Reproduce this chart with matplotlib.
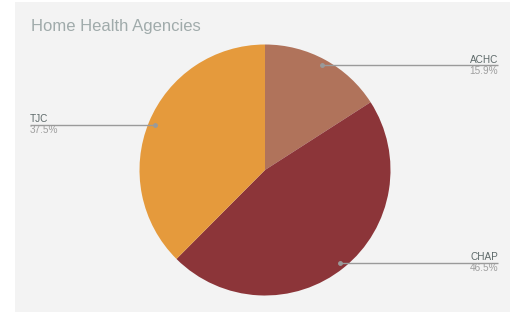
import numpy as np
import matplotlib
matplotlib.use("Agg")
import matplotlib.pyplot as plt
from matplotlib.patches import Rectangle

plt.rcParams['font.family'] = ['Liberation Sans', 'DejaVu Sans']

# Data
labels = ["ACHC", "CHAP", "TJC"]
values = [15.9, 46.5, 37.5]
colors = ["#b0735b", "#8c3539", "#e59a3c"]
title = "Home Health Agencies"

W, H = 511, 312
fig = plt.figure(figsize=(W / 100, H / 100), dpi=100)
fig.patch.set_facecolor("white")
ax = fig.add_axes([0, 0, 1, 1])
ax.set_xlim(0, W)
ax.set_ylim(0, H)
ax.axis("off")

# background panel
ax.add_patch(Rectangle((15, 0), 495 - 15 + 15, H - 2, facecolor="#f3f3f3",
                       edgecolor="none", zorder=0))

cx, cy, r = 265, H - 170, 125.5
wedges, _ = ax.pie(values, colors=colors, startangle=90, counterclock=False,
                   center=(cx, cy), radius=r, frame=True,
                   wedgeprops=dict(linewidth=0))
ax.set_xlim(0, W)
ax.set_ylim(0, H)
ax.axis("off")

line_col = "#9a9a9a"
name_col = "#5d6969"
pct_col = "#9e9e9e"

total = sum(values)
cum = 0
for lab, v in zip(labels, values):
    mid = (cum + v / 2) / total
    cum += v
    ang = np.deg2rad(90 - 360 * mid)
    ax_ = cx + 0.95 * r * np.cos(ang)
    ay_ = cy + 0.95 * r * np.sin(ang)
    if np.cos(ang) >= 0:
        xe = 498
        ha = "right"
    else:
        xe = 30
        ha = "left"
    ax.plot([ax_, xe], [ay_, ay_], color=line_col, lw=1.0, zorder=5,
            solid_capstyle="butt")
    ax.plot([ax_], [ay_], "o", color=line_col, ms=2.5, zorder=6)
    ax.text(xe, ay_ + 2.5, lab, ha=ha, va="baseline", fontsize=7.2,
            color=name_col, zorder=6)
    ax.text(xe, ay_ - 8.5, f"{v}%", ha=ha, va="baseline", fontsize=7.2,
            color=pct_col, zorder=6)

ax.text(31, H - 30.5, title, ha="left", va="baseline", fontsize=12,
        color="#a0abab")

fig.savefig("out.png", dpi=100, facecolor="white")
